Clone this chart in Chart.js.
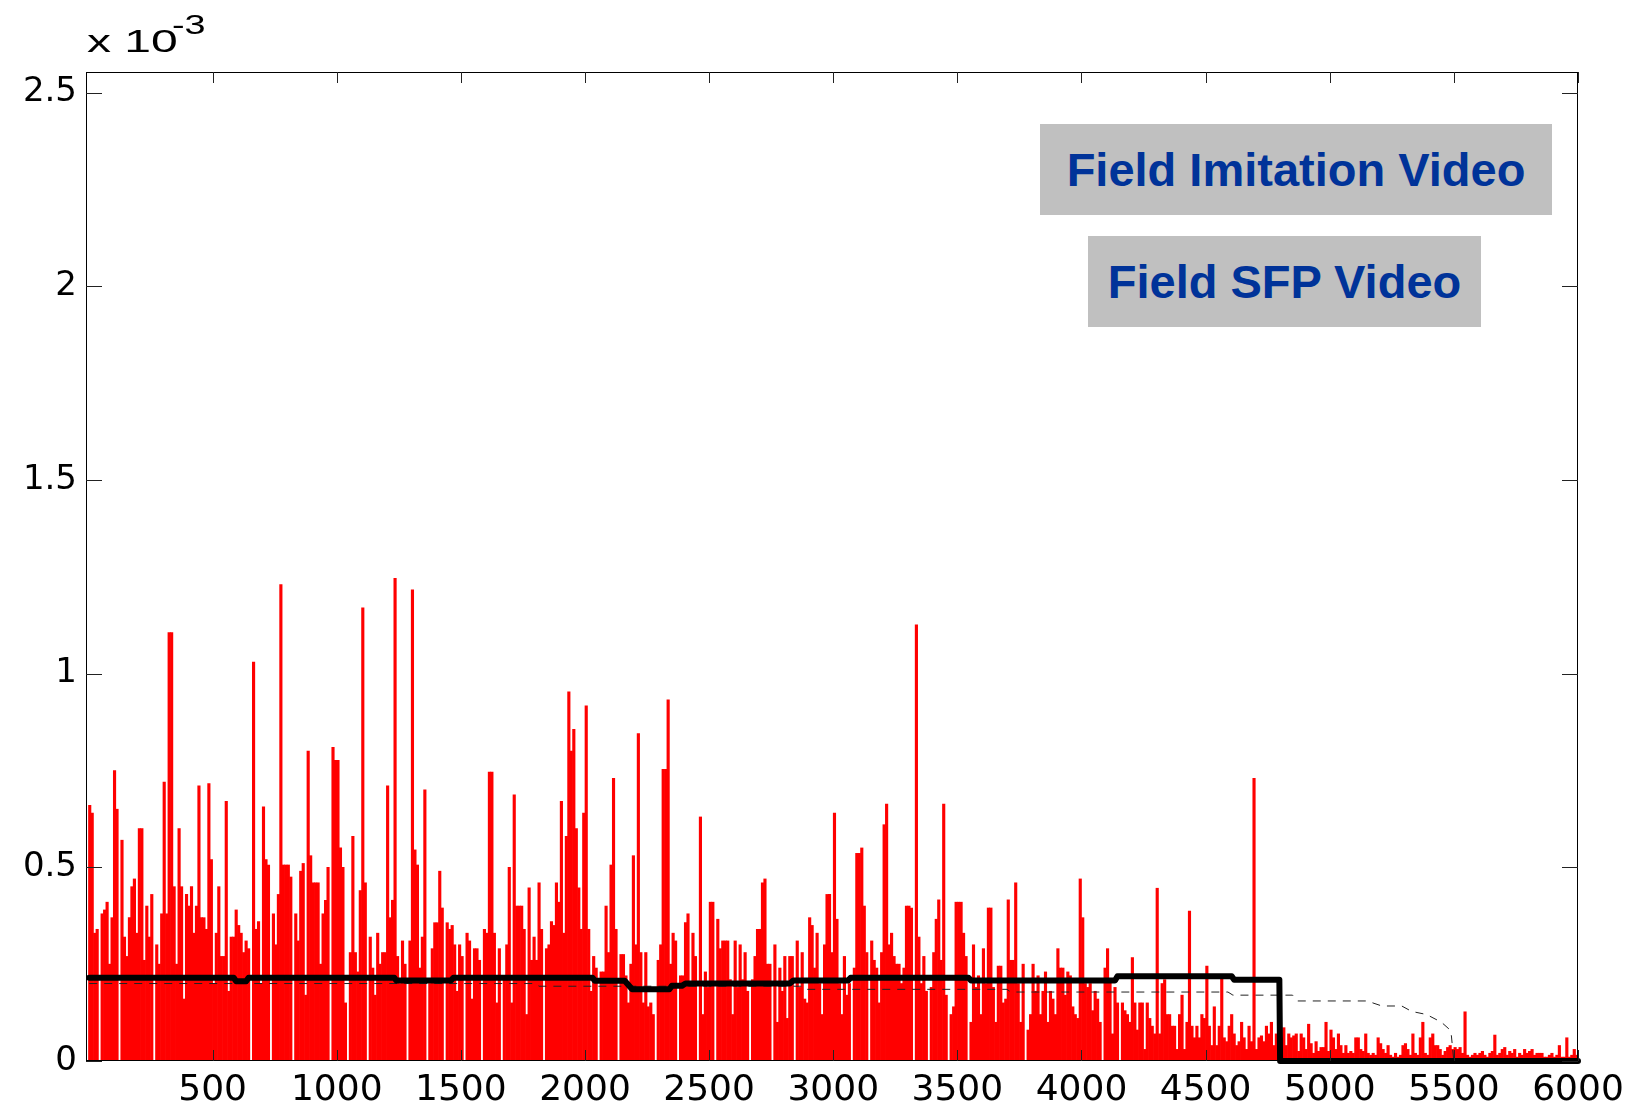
<!DOCTYPE html>
<html lang="en">
<head>
<meta charset="UTF-8">
<title>Field Imitation Video / Field SFP Video</title>
<style>
  html, body { margin: 0; padding: 0; background: #fff; }
  .wrap { position: relative; width: 1643px; height: 1110px; }
  canvas { position: absolute; left: 0; top: 0; }
  .exp { position: absolute; font-family: 'Liberation Sans', Arial, sans-serif; color: #000; white-space: nowrap; transform-origin: 0 0; line-height: 1; }
  .tag { position: absolute; background: #c0c0c0; color: #003399; font: bold 47px 'Liberation Sans', Arial, sans-serif;
         display: flex; align-items: center; justify-content: center; white-space: nowrap; }
</style>
</head>
<body>
<div class="wrap">
  <canvas id="chart" width="1643" height="1110"></canvas>
  <div class="exp" style="left:87px; top:26px; font-size:31px; transform:scaleX(1.55);">x 10</div>
  <div class="exp" style="left:172px; top:11px; font-size:28px; transform:scaleX(1.35);">-3</div>
  <div class="tag" style="left:1040px; top:124px; width:512px; height:91px;">Field Imitation Video</div>
  <div class="tag" style="left:1088px; top:236px; width:393px; height:91px;">Field SFP Video</div>
</div>

<script src="https://cdn.jsdelivr.net/npm/chart.js"></script>
<script>
// tick values
var xTicks = [500, 1000, 1500, 2000, 2500, 3000, 3500, 4000, 4500, 5000, 5500, 6000];
var yTicks = [0, 0.5, 1, 1.5, 2, 2.5];

// red bars, one value per bin of 10 frames (units of 1e-3)
var binWidth = 10;
var red0to1000 = [
  0.66, 0.64, 0.33, 0.34, 0, 0.38, 0.39, 0.41, 0.25, 0.37,
  0.75, 0.65, 0, 0.57, 0.32, 0.27, 0.37, 0.45, 0.47, 0.33,
  0.6, 0.6, 0.26, 0.4, 0.32, 0.43, 0, 0.3, 0.25, 0.38,
  0.72, 0.38, 1.106, 1.106, 0.45, 0.25, 0.6, 0.45, 0.16, 0.43,
  0.4, 0.45, 0.33, 0.4, 0.71, 0.37, 0.37, 0.34, 0.716, 0.52,
  0.2, 0.33, 0.45, 0.27, 0.27, 0.67, 0.18, 0.32, 0.32, 0.39,
  0.35, 0.33, 0.28, 0.31, 0.29, 0, 1.03, 0.34, 0.36, 0.2,
  0.656, 0.52, 0.506, 0, 0.38, 0.3, 0.43, 1.23, 0.506, 0.506,
  0.506, 0.475, 0, 0.38, 0.31, 0.49, 0.51, 0.17, 0.8, 0.53,
  0.46, 0.46, 0.46, 0.25, 0.38, 0.415, 0.5, 0, 0.81, 0.776
];
var red1000to2000 = [
  0.776, 0.55, 0.5, 0.15, 0, 0.28, 0.58, 0.28, 0.23, 0.44,
  1.17, 0.46, 0, 0.32, 0.24, 0.17, 0.33, 0.25, 0.28, 0.28,
  0.71, 0.37, 0.415, 1.246, 0.27, 0.2, 0.31, 0.25, 0, 0.31,
  1.216, 0.545, 0.506, 0.24, 0.32, 0.7, 0, 0.2, 0.29, 0.357,
  0.357, 0.49, 0.395, 0, 0.357, 0.34, 0.35, 0.3, 0.18, 0.3,
  0.27, 0, 0.33, 0.31, 0.16, 0.29, 0.29, 0.26, 0, 0.34,
  0.33, 0.746, 0.746, 0.33, 0.15, 0.29, 0, 0.22, 0.3, 0.5,
  0.15, 0.687, 0.4, 0.4, 0.4, 0.34, 0.12, 0.447, 0.26, 0.32,
  0.26, 0.46, 0.34, 0, 0.29, 0.3, 0.36, 0.35, 0.46, 0.41,
  0.67, 0.33, 0.58, 0.953, 0.8, 0.856, 0.6, 0.447, 0.34, 0.64
];
var red2000to3000 = [
  0.917, 0.34, 0.18, 0.27, 0.24, 0, 0.23, 0.23, 0.4, 0.28,
  0.506, 0.73, 0.34, 0, 0.275, 0.275, 0.22, 0.15, 0.25, 0.53,
  0.3, 0.845, 0.28, 0.15, 0.28, 0.14, 0.15, 0.12, 0, 0.26,
  0.3, 0.753, 0.753, 0.932, 0.25, 0.33, 0.31, 0, 0.22, 0.22,
  0.357, 0.38, 0.2, 0.33, 0.27, 0, 0.63, 0.12, 0.23, 0.19,
  0.41, 0.41, 0, 0.366, 0.29, 0.31, 0.31, 0.31, 0.21, 0.12,
  0.31, 0.19, 0.3, 0.21, 0.28, 0.18, 0, 0.21, 0.27, 0.34,
  0.34, 0.46, 0.47, 0.25, 0.25, 0, 0.3, 0.1, 0.24, 0.18,
  0.27, 0.11, 0.27, 0.27, 0, 0.31, 0.19, 0.28, 0.16, 0.15,
  0.37, 0.35, 0.24, 0.33, 0.2, 0.12, 0.3, 0.43, 0.43, 0.28
];
var red3000to4000 = [
  0.64, 0.366, 0.2, 0.12, 0.27, 0.17, 0.2, 0, 0.24, 0.536,
  0.536, 0.55, 0.4, 0.28, 0, 0.31, 0.26, 0.24, 0.15, 0.28,
  0.61, 0.663, 0.3, 0.33, 0.27, 0.25, 0.25, 0.2, 0.24, 0.4,
  0.4, 0.395, 0, 1.126, 0.32, 0.2, 0.27, 0.18, 0, 0.19,
  0.28, 0.366, 0.416, 0.26, 0.663, 0.17, 0, 0.12, 0.14, 0.41,
  0.41, 0.41, 0.33, 0.27, 0, 0.1, 0.3, 0.19, 0.22, 0.12,
  0.29, 0.2, 0.395, 0.395, 0.19, 0.1, 0.245, 0.245, 0.15, 0.16,
  0.416, 0.26, 0.26, 0.46, 0.2, 0.1, 0.25, 0, 0.08, 0.12,
  0.25, 0.18, 0.22, 0.12, 0.18, 0.23, 0.1, 0.18, 0.16, 0.12,
  0.29, 0.24, 0.24, 0.17, 0.23, 0.22, 0.14, 0.12, 0.11, 0.47
];
var red4000to5000 = [
  0.37, 0.2, 0.19, 0.2, 0.13, 0.18, 0.16, 0.1, 0, 0.24,
  0.29, 0.21, 0.07, 0.19, 0.15, 0, 0.15, 0.13, 0.12, 0.1,
  0.267, 0.15, 0.08, 0.15, 0.15, 0.03, 0.15, 0.11, 0.09, 0.07,
  0.446, 0.07, 0.2, 0.21, 0.12, 0.12, 0.09, 0.09, 0.03, 0.12,
  0.17, 0.03, 0.1, 0.387, 0.09, 0.06, 0.09, 0.06, 0.12, 0.11,
  0.245, 0.09, 0.04, 0.14, 0.04, 0.09, 0.22, 0.06, 0.05, 0.09,
  0.12, 0.07, 0.04, 0.05, 0.1, 0.06, 0.03, 0.09, 0.05, 0.73,
  0.03, 0.06, 0.065, 0.05, 0.09, 0.07, 0.1, 0.04, 0.07, 0.04,
  0.06, 0.086, 0.04, 0.07, 0.06, 0.065, 0.07, 0.025, 0.07, 0.06,
  0.03, 0.095, 0.045, 0.02, 0.05, 0.025, 0.035, 0.035, 0.1, 0.025
];
var red5000to6000 = [
  0.08, 0.06, 0.03, 0.07, 0.04, 0.02, 0.04, 0.02, 0.025, 0.02,
  0.06, 0.06, 0.03, 0.025, 0.07, 0.02, 0.015, 0.02, 0.015, 0.06,
  0.045, 0.03, 0.02, 0.04, 0.015, 0.01, 0.02, 0.01, 0.015, 0.04,
  0.045, 0.03, 0.015, 0.07, 0.02, 0.015, 0.06, 0.1, 0.02, 0.015,
  0.06, 0.07, 0.04, 0.04, 0.03, 0.015, 0.025, 0.035, 0.04, 0.03,
  0.035, 0.03, 0.035, 0.02, 0.127, 0.015, 0.01, 0.015, 0.02, 0.015,
  0.02, 0.025, 0.015, 0.01, 0.02, 0.025, 0.067, 0.015, 0.02, 0.03,
  0.035, 0.015, 0.025, 0.02, 0.03, 0.01, 0.02, 0.015, 0.03, 0.02,
  0.025, 0.03, 0.015, 0.02, 0.02, 0.02, 0.01, 0.01, 0.015, 0.02,
  0.01, 0.015, 0.04, 0.01, 0.01, 0.06, 0.01, 0.015, 0.03, 0.015
];

// thick black step line
var solidX = [3, 585, 595, 635, 645, 1232, 1240, 1460, 1470, 2030, 2040, 2160, 2190, 2340, 2350, 2390, 2405, 2825, 2840, 3060, 3070, 3545, 3555, 4135, 4145, 4605, 4615, 4797, 4800, 6000];
var solidY = [0.215, 0.215, 0.206, 0.206, 0.215, 0.215, 0.208, 0.208, 0.215, 0.215, 0.207, 0.207, 0.185, 0.185, 0.194, 0.194, 0.2, 0.2, 0.208, 0.208, 0.215, 0.215, 0.208, 0.208, 0.219, 0.219, 0.21, 0.21, 0, 0];

// thin dashed line
var dashX = [3, 1800, 1815, 2880, 2895, 3700, 3715, 4590, 4610, 4850, 4870, 5150, 5210, 5290, 5330, 5390, 5450, 5485, 5490, 5500, 6000];
var dashY = [0.2, 0.2, 0.193, 0.193, 0.185, 0.185, 0.178, 0.178, 0.17, 0.17, 0.155, 0.155, 0.142, 0.142, 0.128, 0.12, 0.1, 0.08, 0.065, 0, 0];

var redHeights = red0to1000.concat(red1000to2000, red2000to3000, red3000to4000, red4000to5000, red5000to6000);
var redBars = redHeights.map(function (v, i) { return { x: binWidth * i + binWidth / 2, y: v }; });
var solidLine = solidX.map(function (x, i) { return { x: x, y: solidY[i] }; });
var dashedLine = dashX.map(function (x, i) { return { x: x, y: dashY[i] }; });

// box with inward ticks on all four sides, like the original plot
var framePlugin = {
  id: 'frame',
  afterDatasetsDraw: function (chart) {
    var ctx = chart.ctx, a = chart.chartArea, xs = chart.scales.x, ys = chart.scales.y;
    ctx.save();
    ctx.strokeStyle = '#000';
    ctx.lineWidth = 1;
    ctx.strokeRect(a.left + 0.5, a.top + 0.5, a.right - a.left - 1, a.bottom - a.top - 1);
    ctx.strokeStyle = '#222';
    ctx.beginPath();
    xTicks.forEach(function (v) {
      var px = Math.round(xs.getPixelForValue(v)) + 0.5;
      ctx.moveTo(px, a.bottom); ctx.lineTo(px, a.bottom - 11);
      ctx.moveTo(px, a.top); ctx.lineTo(px, a.top + 11);
    });
    yTicks.forEach(function (v) {
      var py = Math.round(ys.getPixelForValue(v)) + 0.5;
      ctx.moveTo(a.left, py); ctx.lineTo(a.left + 16, py);
      ctx.moveTo(a.right, py); ctx.lineTo(a.right - 16, py);
    });
    ctx.stroke();
    ctx.restore();
  }
};

new Chart(document.getElementById('chart'), {
  type: 'bar',
  data: {
    datasets: [
      {
        type: 'line',
        label: 'Field SFP Video',
        data: solidLine,
        borderColor: '#000',
        borderWidth: 6,
        pointRadius: 0,
        tension: 0,
        borderJoinStyle: 'round',
        borderCapStyle: 'round',
        clip: false,
        order: 1
      },
      {
        type: 'line',
        label: 'Field Imitation Video',
        data: dashedLine,
        borderColor: '#222',
        borderWidth: 1,
        borderDash: [8, 7],
        pointRadius: 0,
        tension: 0,
        order: 2
      },
      {
        type: 'bar',
        label: 'per-frame value',
        data: redBars,
        backgroundColor: '#ff0000',
        borderWidth: 0,
        barPercentage: 1,
        categoryPercentage: 1,
        order: 3
      }
    ]
  },
  options: {
    responsive: false,
    animation: false,
    events: [],
    layout: { padding: { left: 0, right: 65, top: 72, bottom: 0 } },
    plugins: {
      legend: { display: false },
      tooltip: { enabled: false },
      title: { display: false }
    },
    scales: {
      x: {
        type: 'linear',
        min: -10,
        max: 6000,
        offset: false,
        grid: { display: false, drawTicks: false },
        border: { display: false },
        afterBuildTicks: function (s) { s.ticks = xTicks.map(function (v) { return { value: v }; }); },
        afterFit: function (s) { s.height = 49; },
        ticks: {
          color: '#000',
          font: { family: 'DejaVu Sans', size: 36 },
          padding: 8,
          maxRotation: 0,
          autoSkip: false,
          callback: function (v) { return String(v); }
        }
      },
      y: {
        min: 0,
        max: 2.553,
        grid: { display: false, drawTicks: false },
        border: { display: false },
        afterBuildTicks: function (s) { s.ticks = yTicks.map(function (v) { return { value: v }; }); },
        afterFit: function (s) { s.width = 86; },
        ticks: {
          color: '#000',
          font: { family: 'DejaVu Sans', size: 34 },
          padding: 9,
          callback: function (v) { return String(v); }
        }
      }
    }
  },
  plugins: [framePlugin]
});
</script>
</body>
</html>
